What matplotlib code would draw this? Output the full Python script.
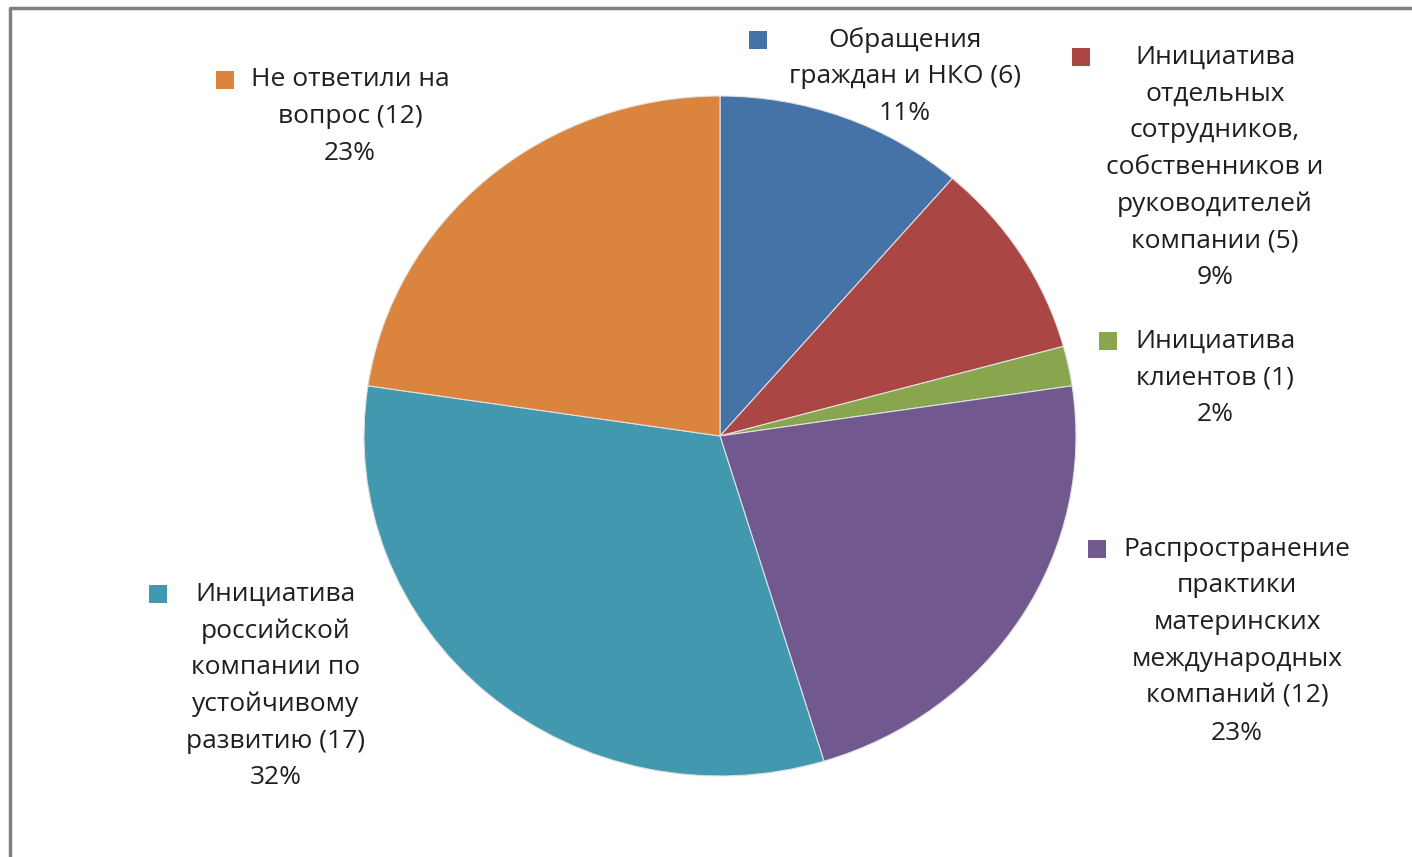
import matplotlib.pyplot as plt
from matplotlib.patches import Rectangle
from matplotlib.lines import Line2D

labels = [
    "Обращения\nграждан и НКО (6)",
    "Инициатива\nотдельных\nсотрудников,\nсобственников и\nруководителей\nкомпании (5)",
    "Инициатива\nклиентов (1)",
    "Распространение\nпрактики\nматеринских\nмеждународных\nкомпаний (12)",
    "Инициатива\nроссийской\nкомпании по\nустойчивому\nразвитию (17)",
    "Не ответили на\nвопрос (12)",
]
values = [6, 5, 1, 12, 17, 12]
percents = ["11%", "9%", "2%", "23%", "32%", "23%"]
colors = ["#4572A7", "#AA4643", "#89A54E", "#71588F", "#4198AF", "#DB843D"]

# label layout in pixels: text centre x, first line y, legend key x
label_pos = [(905, 40, 758), (1215, 57, 1081), (1215, 341, 1108),
             (1237, 549, 1097), (276, 594, 158), (350, 80, 225)]

W, H = 1412, 857
fig = plt.figure(figsize=(W / 100, H / 100), dpi=100)
ax = fig.add_axes([0, 0, 1, 1])

cx, cy = 720, 436
rx, ry = 356, 340
sc = rx / ry

ax.pie(values, colors=colors, startangle=90, counterclock=False,
       center=(cx, (H - cy) * sc), radius=rx, frame=True,
       wedgeprops=dict(edgecolor="#e0e0e0", linewidth=0.8))
ax.set_xlim(0, W)
ax.set_ylim(0, H * sc)
ax.set_aspect("auto")
ax.axis("off")

line_h = 36.8
for lab, pct, (tx, ty, kx), col in zip(labels, percents, label_pos, colors):
    lines = lab.split("\n") + [pct]
    for i, ln in enumerate(lines):
        fig.text(tx / W, 1 - (ty + i * line_h) / H, ln, ha="center", va="center",
                 fontsize=19, family="Open Sans", color="#1f1f1f")
    fig.add_artist(Rectangle(((kx - 9) / W, 1 - (ty + 9) / H), 18 / W, 18 / H,
                             transform=fig.transFigure, facecolor=col, edgecolor="none"))

# frame (only left and top edges visible)
fig.add_artist(Line2D([10 / W, 10 / W, 1], [0, 1 - 8 / H, 1 - 8 / H],
                      transform=fig.transFigure, color="#808080", linewidth=2.5))

fig.savefig("out.png", dpi=100)
